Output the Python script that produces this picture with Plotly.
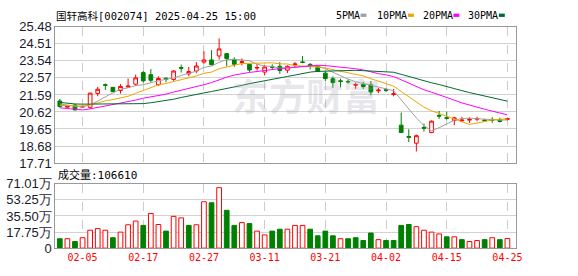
import plotly.graph_objects as go

# ---------------- data ----------------
dates = ["01-23", "01-24", "01-27",
         "02-05", "02-06", "02-07", "02-10", "02-11", "02-12", "02-13", "02-14",
         "02-17", "02-18", "02-19", "02-20", "02-21", "02-24", "02-25", "02-26",
         "02-27", "02-28",
         "03-03", "03-04", "03-05", "03-06", "03-07", "03-10", "03-11", "03-12",
         "03-13", "03-14", "03-17", "03-18", "03-19", "03-20", "03-21", "03-24",
         "03-25", "03-26", "03-27", "03-28", "03-31",
         "04-01", "04-02", "04-03", "04-07", "04-08", "04-09", "04-10", "04-11",
         "04-14", "04-15", "04-16", "04-17", "04-18", "04-21", "04-22", "04-23",
         "04-24", "04-25"]

tick_labels = ["02-05", "02-17", "02-27", "03-11", "03-21", "04-02", "04-15", "04-25"]

open_ = [21.25, 20.90, 21.02, 20.90, 20.89, 21.68, 22.18, 22.03, 21.85, 22.05,
         22.21, 22.87, 22.75, 22.18, 22.55, 22.48, 23.16, 22.80, 22.96, 23.47,
         23.59, 23.82, 23.95, 23.62, 23.45, 23.34, 23.13, 22.90, 23.20, 23.23,
         23.01, 23.32, 23.48, 23.34, 23.24, 22.84, 22.52, 22.40, 22.37, 22.15,
         22.21, 22.17, 21.83, 21.89, 21.62, 19.87, 19.22, 18.84, 19.74, 19.45,
         20.43, 20.30, 20.14, 20.12, 20.16, 20.21, 20.16, 20.20, 20.18, 20.20]
high = [21.37, 20.98, 21.07, 20.98, 21.72, 22.06, 22.25, 22.05, 22.21, 22.53,
        22.75, 22.96, 23.07, 22.66, 22.60, 23.01, 23.32, 23.20, 23.47, 24.09,
        24.15, 24.82, 23.97, 23.74, 23.68, 23.36, 23.38, 23.28, 23.34, 23.47,
        23.28, 23.47, 23.82, 23.41, 23.28, 22.93, 22.65, 22.53, 22.48, 22.30,
        22.35, 22.39, 21.99, 21.99, 21.94, 20.59, 19.64, 19.33, 19.96, 20.14,
        20.68, 20.64, 20.35, 20.35, 20.32, 20.35, 20.23, 20.32, 20.30, 20.28]
low = [20.88, 20.86, 20.71, 20.86, 20.80, 21.52, 21.88, 21.76, 21.67, 22.00,
       22.12, 22.30, 22.30, 22.12, 22.32, 22.40, 22.87, 22.66, 22.84, 23.38,
       23.28, 23.61, 23.23, 23.20, 23.28, 22.91, 22.98, 22.71, 23.07, 22.80,
       22.84, 23.16, 23.41, 23.05, 22.90, 22.39, 22.00, 22.03, 22.24, 21.94,
       21.94, 21.58, 21.70, 21.76, 21.52, 19.44, 18.91, 18.37, 19.51, 19.42,
       20.23, 20.19, 19.87, 20.05, 20.00, 20.10, 20.05, 20.00, 20.02, 20.14]
close = [20.93, 20.95, 20.74, 20.94, 21.70, 21.92, 22.15, 21.78, 22.08, 22.10,
         22.57, 22.40, 22.43, 22.53, 22.50, 22.96, 23.12, 22.93, 23.25, 23.59,
         23.32, 24.22, 23.68, 23.35, 23.49, 23.02, 23.16, 23.19, 23.17, 22.99,
         23.23, 23.36, 23.45, 23.24, 22.94, 22.53, 22.30, 22.37, 22.34, 22.19,
         22.07, 21.76, 21.87, 21.86, 21.66, 19.45, 19.18, 19.27, 19.70, 20.10,
         20.39, 20.26, 20.29, 20.16, 20.20, 20.25, 20.12, 20.16, 20.08, 20.24]

ma5 = [21.08, 21.02, 20.95, 20.90, 21.05, 21.24, 21.49, 21.70, 21.93, 22.00,
       22.13, 22.18, 22.31, 22.40, 22.49, 22.56, 22.71, 22.81, 22.95, 23.17,
       23.24, 23.46, 23.61, 23.63, 23.61, 23.55, 23.35, 23.25, 23.22, 23.12,
       23.16, 23.19, 23.24, 23.25, 23.24, 23.10, 22.89, 22.68, 22.50, 22.35,
       22.25, 22.15, 22.05, 21.95, 21.84, 21.32, 20.80, 20.28, 19.85, 19.54,
       19.73, 19.95, 20.15, 20.25, 20.27, 20.24, 20.20, 20.18, 20.16, 20.17]
ma10 = [21.00, 20.98, 20.96, 20.96, 21.02, 21.16, 21.26, 21.33, 21.42, 21.52,
        21.69, 21.84, 22.00, 22.17, 22.25, 22.35, 22.45, 22.56, 22.68, 22.83,
        22.90, 23.09, 23.21, 23.29, 23.39, 23.40, 23.41, 23.43, 23.43, 23.37,
        23.36, 23.27, 23.25, 23.24, 23.18, 23.13, 23.04, 22.96, 22.88, 22.80,
        22.68, 22.52, 22.37, 22.23, 22.10, 21.79, 21.48, 21.17, 20.90, 20.69,
        20.53, 20.38, 20.22, 20.05, 19.91, 19.99, 20.08, 20.17, 20.21, 20.22]
ma20 = [20.86, 20.82, 20.77, 20.74, 20.80, 20.88, 20.96, 21.04, 21.12, 21.20,
        21.30, 21.41, 21.48, 21.57, 21.64, 21.76, 21.86, 21.95, 22.05, 22.18,
        22.30, 22.47, 22.61, 22.73, 22.82, 22.88, 22.93, 23.00, 23.06, 23.10,
        23.13, 23.18, 23.23, 23.27, 23.29, 23.27, 23.23, 23.20, 23.16, 23.09,
        23.02, 22.90, 22.81, 22.74, 22.64, 22.46, 22.26, 22.07, 21.89, 21.75,
        21.61, 21.45, 21.30, 21.14, 21.01, 20.89, 20.78, 20.67, 20.56, 20.46]
ma30 = [21.17, 21.12, 21.08, 21.07, 21.07, 21.07, 21.07, 21.07, 21.07, 21.07,
        21.08, 21.10, 21.15, 21.21, 21.27, 21.35, 21.45, 21.55, 21.63, 21.71,
        21.79, 21.87, 21.96, 22.05, 22.14, 22.24, 22.33, 22.42, 22.50, 22.57,
        22.65, 22.73, 22.82, 22.90, 22.94, 22.96, 22.97, 22.98, 23.00, 23.00,
        22.98, 22.96, 22.94, 22.92, 22.89, 22.77, 22.64, 22.52, 22.40, 22.29,
        22.19, 22.06, 21.95, 21.84, 21.73, 21.64, 21.53, 21.43, 21.33, 21.24]

volume = [104000, 104000, 73000, 115000, 198000, 216000, 198000, 115000, 177000, 258000,
          299000, 251000, 383000, 261000, 188000, 351000, 334000, 251000, 258000, 512000,
          501000, 668000, 418000, 251000, 282000, 271000, 188000, 146000, 188000, 209000,
          209000, 251000, 251000, 209000, 136000, 188000, 136000, 104000, 104000, 115000,
          84000, 167000, 94000, 84000, 84000, 251000, 261000, 237000, 198000, 177000,
          157000, 125000, 125000, 94000, 73000, 84000, 94000, 115000, 94000, 106610]

price_ticks = ["17.71", "18.68", "19.65", "20.62", "21.59", "22.57", "23.54", "24.51", "25.48"]
vol_ticks = ["0", "17.75万", "35.50万", "53.25万", "71.01万"]
price_min, price_max = 17.71, 25.48
vol_max = 710100

title_text = "国轩高科[002074] 2025-04-25 15:00"
vol_label = "成交量:106610"
ma_names = ["5PMA", "10PMA", "20PMA", "30PMA"]
watermark = "东方财富"

# ---------------- styling ----------------
W, H = 578, 276
RED = "#ff0000"
GREEN = "#008000"
MA_COLORS = ["#a0a0a0", "#f0a500", "#ff00ff", "#006a33"]
GRID = "#d2d2d2"
FRAME = "#999999"

idx = list(range(len(dates)))
tick_idx = [dates.index(t) for t in tick_labels]

def px_x(p):
    return p / W

def px_y(p):
    return 1 - p / H

fig = go.Figure()

fig.add_trace(go.Candlestick(
    x=idx, open=open_, high=high, low=low, close=close,
    xaxis="x", yaxis="y",
    increasing=dict(line=dict(color=RED, width=1), fillcolor="#ffffff"),
    decreasing=dict(line=dict(color=GREEN, width=1), fillcolor=GREEN),
    whiskerwidth=0, hoverinfo="skip", showlegend=False,
))

for name, ys, col in zip(ma_names, [ma5, ma10, ma20, ma30], MA_COLORS):
    fig.add_trace(go.Scatter(x=idx, y=ys, mode="lines", name=name,
                             line=dict(color=col, width=1),
                             xaxis="x", yaxis="y", hoverinfo="skip", showlegend=False))

vol_up = [close[0] >= open_[0]] + [close[i] >= close[i - 1] for i in range(1, len(close))]
fig.add_trace(go.Bar(
    x=idx, y=volume, xaxis="x2", yaxis="y2", width=0.62,
    marker=dict(color=["#ffffff" if u else GREEN for u in vol_up],
                line=dict(color=[RED if u else GREEN for u in vol_up], width=1)),
    hoverinfo="skip", showlegend=False,
))

xdom = [px_x(56), px_x(522)]
xrange = [-0.59, 60.09]
axis_common = dict(showline=True, mirror=True, linecolor=FRAME, linewidth=1,
                   zeroline=False, ticks="")

step_p = (price_max - price_min) / (len(price_ticks) - 1)
step_v = vol_max / (len(vol_ticks) - 1)

fig.update_layout(
    width=W, height=H,
    margin=dict(l=0, r=0, t=0, b=0),
    paper_bgcolor="#ffffff", plot_bgcolor="#ffffff",
    bargap=0, hovermode=False,
    xaxis=dict(domain=xdom, range=xrange, anchor="y", tickvals=tick_idx,
               showticklabels=False, showgrid=True, gridcolor="#cccccc",
               griddash="dash", gridwidth=1, rangeslider=dict(visible=False),
               **axis_common),
    yaxis=dict(domain=[px_y(165), px_y(21)], range=[price_min, price_max], anchor="x",
               tickvals=[price_min + k * step_p for k in range(len(price_ticks))],
               ticktext=price_ticks, showgrid=True, gridcolor=GRID, gridwidth=1,
               tickfont=dict(family="Liberation Sans", size=13, color="#1a1a2e"),
               **axis_common),
    xaxis2=dict(domain=xdom, range=xrange, anchor="y2", tickvals=tick_idx,
                ticktext=tick_labels, showgrid=True, gridcolor="#cccccc",
                griddash="dash", gridwidth=1,
                tickfont=dict(family="DejaVu Sans Mono", size=10, color=RED),
                **axis_common),
    yaxis2=dict(domain=[px_y(255), px_y(187)], range=[0, vol_max], anchor="x2",
                tickvals=[k * step_v for k in range(len(vol_ticks))],
                ticktext=vol_ticks, showgrid=True, gridcolor=GRID, gridwidth=1,
                tickfont=dict(family="Liberation Sans", size=13, color="#1a1a2e"),
                **axis_common),
)

annotations = [
    # watermark (very light, semi-transparent)
    dict(text="<b>" + watermark + "</b>", x=px_x(310), y=px_y(93), xref="paper", yref="paper",
         xanchor="center", yanchor="middle", showarrow=False,
         font=dict(family="Noto Sans CJK SC", size=37, color="rgba(170,170,185,0.28)")),
    dict(text=title_text, x=px_x(55), y=px_y(10), xref="paper", yref="paper",
         xanchor="left", yanchor="middle", showarrow=False,
         font=dict(family="DejaVu Sans Mono, Noto Sans CJK SC", size=10.5, color="#000000")),
    dict(text=vol_label, x=px_x(57), y=px_y(178), xref="paper", yref="paper",
         xanchor="left", yanchor="middle", showarrow=False,
         font=dict(family="DejaVu Sans Mono, Noto Sans CJK SC", size=11, color="#000000")),
]
legend_text_x = [338, 380, 426, 472]
legend_bar_x = [365, 413, 459, 505]
shapes = []
for name, col, tx, bx in zip(ma_names, MA_COLORS, legend_text_x, legend_bar_x):
    annotations.append(dict(text=name, x=px_x(tx), y=px_y(9), xref="paper", yref="paper",
                            xanchor="left", yanchor="middle", showarrow=False,
                            font=dict(family="DejaVu Sans Mono", size=10, color="#000000")))
    shapes.append(dict(type="rect", xref="paper", yref="paper",
                       x0=px_x(bx), x1=px_x(bx + 6), y0=px_y(10.5), y1=px_y(7),
                       fillcolor=col, line=dict(width=0)))

fig.update_layout(annotations=annotations, shapes=shapes)

fig.write_html("out.html", config={"displayModeBar": False, "staticPlot": True})
